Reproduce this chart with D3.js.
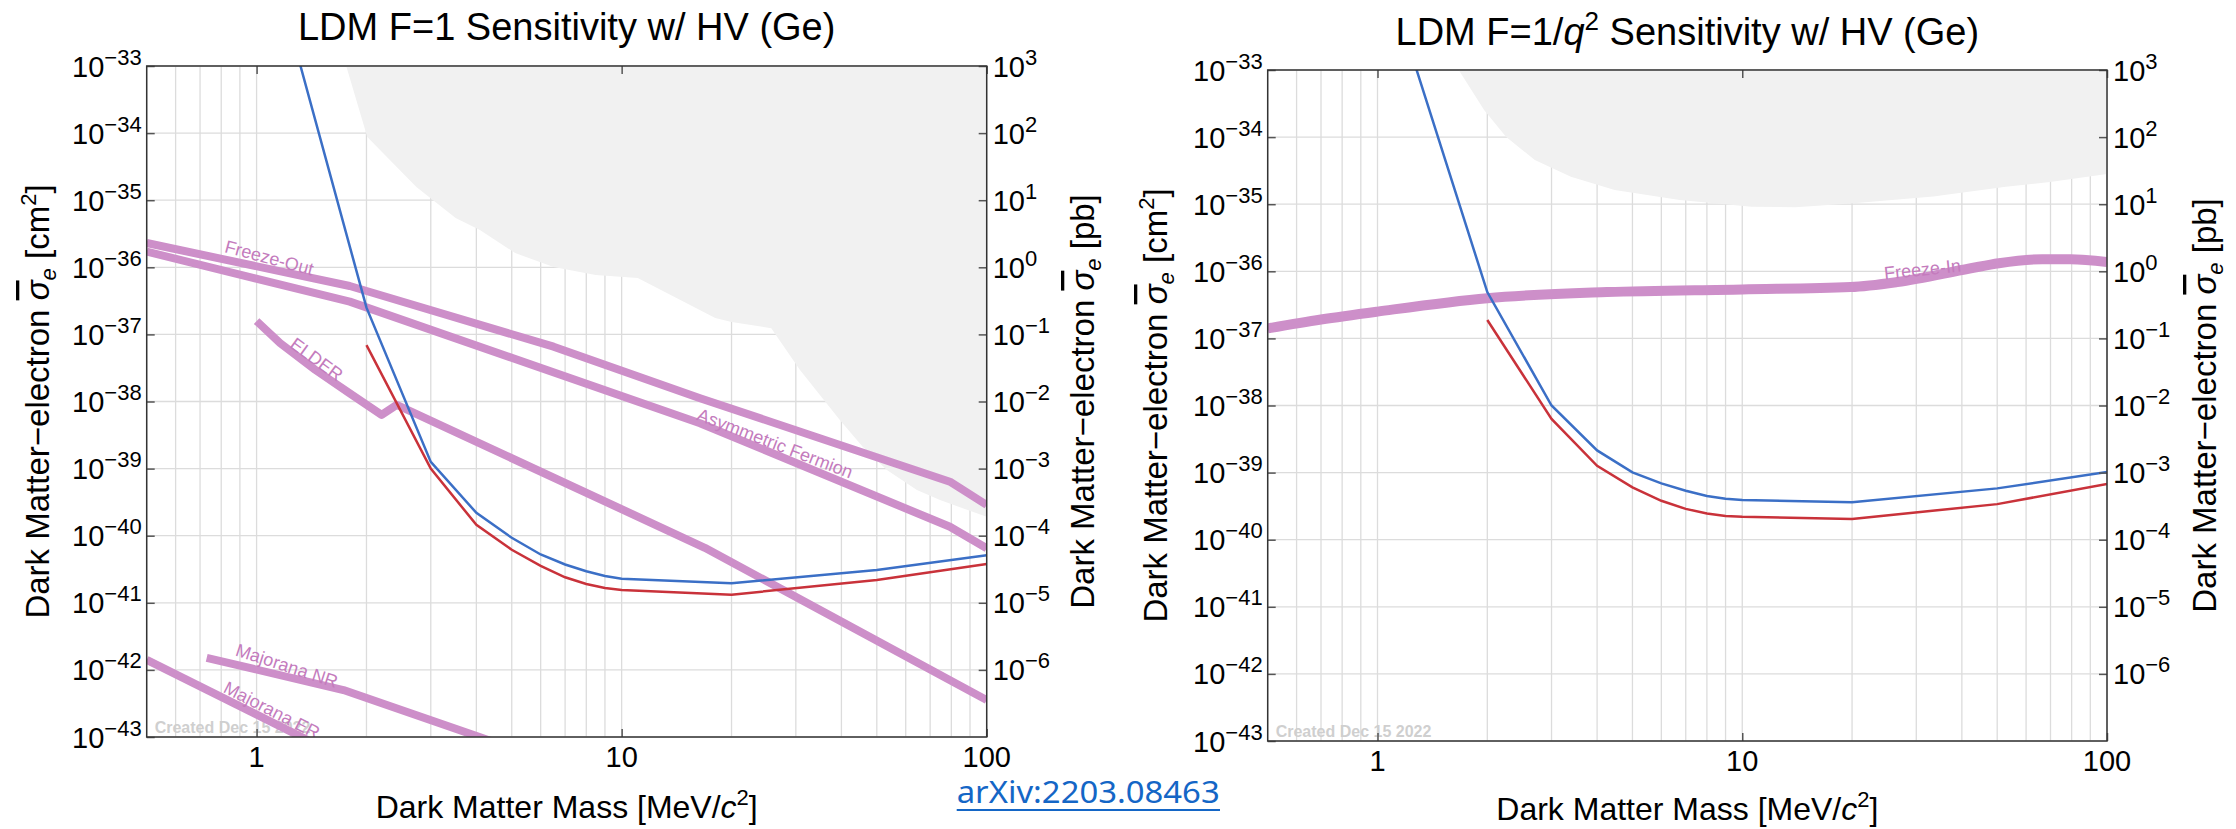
<!DOCTYPE html>
<html>
<head>
<meta charset="utf-8">
<script src="https://cdn.jsdelivr.net/npm/d3@7"></script>
<style>
  body { margin: 0; background: #fff; }
  svg text { font-family: 'Liberation Sans', Arial, Helvetica, sans-serif; }
</style>
</head>
<body>
<svg id="chart" width="2236" height="829"></svg>
<script>

// ---- axes
const massDomain = [0.5, 100]
const massTickValues = [1, 10, 100]
const massTickLabels = ['1', '10', '100']
const cm2Exponents = [-33, -34, -35, -36, -37, -38, -39, -40, -41, -42, -43]
const pbExponents = [3, 2, 1, 0, -1, -2, -3, -4, -5, -6]

// ---- F=1 panel (mass in MeV, cross section in cm^2)
const f1BlueMass = [1, 2, 3, 4, 5, 6, 7, 8, 9, 10, 20, 50, 100]
const f1BlueSigma = [2.5e-31, 2.5e-37, 1.26e-39, 2.19e-40, 9.3e-41, 5.25e-41, 3.72e-41, 2.95e-41, 2.51e-41, 2.29e-41, 1.95e-41, 3.09e-41, 5.13e-41]
const f1RedMass = [2, 3, 4, 5, 6, 7, 8, 9, 10, 20, 50, 100]
const f1RedSigma = [6.92e-38, 1.0e-39, 1.45e-40, 6.17e-41, 3.55e-41, 2.4e-41, 1.91e-41, 1.66e-41, 1.55e-41, 1.32e-41, 2.19e-41, 3.8e-41]
const f1ExcludedMass = [1.76, 2.01, 2.74, 3.51, 4.09, 5.11, 6.51, 8.49, 11.07, 18.05, 20, 25.7, 30.8, 39.6, 45.8, 53.3, 64.4, 74.5, 100]
const f1ExcludedSigma = [1e-33, 8.75e-35, 1.57e-35, 5.43e-36, 3.6e-36, 1.63e-36, 1.01e-36, 7.67e-37, 6.92e-37, 1.75e-37, 1.53e-37, 1.24e-37, 2.95e-38, 5.3e-39, 2.1e-39, 9.55e-40, 4.79e-40, 3.39e-40, 1.91e-40]
const freezeOutMass = [0.5, 1.8, 6.51, 16.4, 79.3, 100]
const freezeOutSigma = [2.3e-36, 5.26e-37, 6.56e-38, 1.12e-38, 6.38e-40, 2.87e-40]
const asymFermionMass = [0.5, 1.8, 16.4, 79.3, 100]
const asymFermionSigma = [1.71e-36, 3.08e-37, 4.73e-39, 1.36e-40, 6.49e-41]
const elderMass = [1, 1.16, 1.45, 1.8, 2.2, 2.42, 16.9, 100]
const elderSigma = [1.58e-37, 7.41e-38, 2.95e-38, 1.32e-38, 6.31e-39, 8.91e-39, 6.61e-41, 3.55e-43]
const majoranaNRMass = [0.73, 1.73, 4.08, 5]
const majoranaNRSigma = [1.51e-42, 5.01e-43, 1e-43, 6.76e-44]
const majoranaERMass = [0.5, 1.6]
const majoranaERSigma = [1.41e-42, 6.03e-44]

// ---- F=1/q^2 panel
const fq2BlueMass = [1, 2, 3, 4, 5, 6, 7, 8, 9, 10, 20, 50, 100]
const fq2BlueSigma = [6.8e-32, 4.9e-37, 1e-38, 2.14e-39, 1.01e-39, 6.92e-40, 5.37e-40, 4.47e-40, 4.07e-40, 3.89e-40, 3.63e-40, 5.82e-40, 1.02e-39]
const fq2RedMass = [2, 3, 4, 5, 6, 7, 8, 9, 10, 20, 50, 100]
const fq2RedSigma = [1.88e-37, 6.31e-39, 1.26e-39, 6.03e-40, 3.8e-40, 2.88e-40, 2.45e-40, 2.26e-40, 2.19e-40, 2.04e-40, 3.39e-40, 6.76e-40]
const fq2ExcludedMass = [1.67, 1.96, 2.25, 2.7, 3.39, 4.47, 6.74, 10.6, 14, 20.2, 33.4, 52.8, 69.8, 100]
const fq2ExcludedSigma = [1e-33, 2.54e-34, 1.01e-34, 4.56e-35, 2.57e-35, 1.63e-35, 1.16e-35, 9.18e-36, 9e-36, 1.03e-35, 1.3e-35, 1.82e-35, 2.14e-35, 2.82e-35]
const freezeInMass = [0.5, 0.7, 1, 2, 4.26, 10, 19.8, 26.6, 42, 50.5, 66.4, 79.5, 100]
const freezeInSigma = [1.41e-37, 1.91e-37, 2.51e-37, 3.98e-37, 4.9e-37, 5.37e-37, 5.82e-37, 6.92e-37, 1.1e-36, 1.32e-36, 1.51e-36, 1.51e-36, 1.38e-36]

const zip = (ms, ss) => ms.map((m, i) => ({ m, s: ss[i] }))

const bandColor = '#cd8fc9'
const labelColor = '#c47bbd'
const blue = '#3b6fc6'
const red = '#c9323a'

const panels = [
  {
    id: 'f1',
    box: { left: 146.7, right: 986.7, top: 66, bottom: 737 },
    titleBaseline: 40,
    xLabelBaseline: 818,
    yLabelLeftX: 49,
    yLabelRightX: 1094,
    excluded: zip(f1ExcludedMass, f1ExcludedSigma),
    bands: [
      { pts: zip(freezeOutMass, freezeOutSigma), width: 8 },
      { pts: zip(asymFermionMass, asymFermionSigma), width: 8 },
      { pts: zip(elderMass, elderSigma), width: 8 },
      { pts: zip(majoranaNRMass, majoranaNRSigma), width: 8 },
      { pts: zip(majoranaERMass, majoranaERSigma), width: 8 }
    ],
    labels: [
      { text: 'Freeze-Out', m: 1.083, s: 1.38e-36, angle: 15 },
      { text: 'ELDER', m: 1.46, s: 4.23e-38, angle: 36 },
      { text: 'Asymmetric Fermion', m: 26.3, s: 2.37e-39, angle: 21 },
      { text: 'Majorana NR', m: 1.21, s: 1.15e-42, angle: 18 },
      { text: 'Majorana ER', m: 1.1, s: 2.51e-43, angle: 27 }
    ],
    red: zip(f1RedMass, f1RedSigma),
    blue: zip(f1BlueMass, f1BlueSigma)
  },
  {
    id: 'fq2',
    box: { left: 1267.7, right: 2107, top: 70, bottom: 741 },
    titleBaseline: 45,
    xLabelBaseline: 820,
    yLabelLeftX: 1167,
    yLabelRightX: 2216,
    excluded: zip(fq2ExcludedMass, fq2ExcludedSigma),
    bands: [
      { pts: zip(freezeInMass, freezeInSigma), width: 10, smooth: true }
    ],
    labels: [
      { text: 'Freeze-In', m: 31.2, s: 1.06e-36, angle: -6 }
    ],
    red: zip(fq2RedMass, fq2RedSigma),
    blue: zip(fq2BlueMass, fq2BlueSigma)
  }
]

const svg = d3.select('#chart')
const defs = svg.append('defs')

panels.forEach(drawPanel)

// link under the left panel
svg.append('text')
  .attr('x', 956.7)
  .attr('y', 803)
  .attr('textLength', 263)
  .attr('lengthAdjust', 'spacingAndGlyphs')
  .style('font-family', "'Noto Sans', 'Open Sans', sans-serif")
  .style('font-size', '30px')
  .attr('fill', '#1466c6')
  .text('arXiv:2203.08463')
svg.append('line')
  .attr('x1', 956.7).attr('x2', 1220)
  .attr('y1', 810).attr('y2', 810)
  .attr('stroke', '#1466c6').attr('stroke-width', 2)


function drawPanel(p) {
  const { left, right, top, bottom } = p.box
  const x = d3.scaleLog().domain(massDomain).range([left, right])
  const y = d3.scaleLog().domain([1e-43, 1e-33]).range([bottom, top])
  const yPb = d3.scaleLog().domain([1e-7, 1e3]).range([bottom, top])

  const g = svg.append('g').attr('id', p.id)

  defs.append('clipPath').attr('id', 'clip-' + p.id)
    .append('rect')
    .attr('x', left).attr('y', top)
    .attr('width', right - left).attr('height', bottom - top)

  // grid
  const grid = g.append('g').attr('stroke', '#dcdcdc').attr('stroke-width', 1.3)
  grid.selectAll('.vgrid').data(x.ticks())
    .enter().append('line')
    .attr('x1', d => x(d)).attr('x2', d => x(d))
    .attr('y1', top).attr('y2', bottom)
  grid.selectAll('.hgrid').data(cm2Exponents)
    .enter().append('line')
    .attr('x1', left).attr('x2', right)
    .attr('y1', d => y(Math.pow(10, d))).attr('y2', d => y(Math.pow(10, d)))

  const plot = g.append('g').attr('clip-path', `url(#clip-${p.id})`)

  // excluded region
  const area = d3.area()
    .x(d => x(d.m))
    .y0(top)
    .y1(d => y(d.s))
  plot.append('path')
    .datum(p.excluded)
    .attr('d', area)
    .attr('fill', '#f1f1f1')

  plot.append('text')
    .attr('x', left + 8)
    .attr('y', bottom - 4)
    .attr('fill', '#cfcfcf')
    .style('font-size', '16px')
    .style('font-weight', 'bold')
    .text('Created Dec 15 2022')

  // theory bands
  p.bands.forEach(b => {
    const line = d3.line()
      .x(d => x(d.m))
      .y(d => y(d.s))
      .curve(b.smooth ? d3.curveMonotoneX : d3.curveLinear)
    plot.append('path')
      .datum(b.pts)
      .attr('d', line)
      .attr('fill', 'none')
      .attr('stroke', bandColor)
      .attr('stroke-width', b.width)
      .attr('stroke-linejoin', 'round')
  })

  p.labels.forEach(l => {
    plot.append('text')
      .attr('transform', `translate(${x(l.m)},${y(l.s)}) rotate(${l.angle})`)
      .attr('text-anchor', 'middle')
      .attr('dominant-baseline', 'central')
      .attr('fill', labelColor)
      .style('font-size', '18px')
      .text(l.text)
  })

  // sensitivity curves
  const curve = d3.line().x(d => x(d.m)).y(d => y(d.s))
  plot.append('path').datum(p.red)
    .attr('d', curve).attr('fill', 'none')
    .attr('stroke', red).attr('stroke-width', 2.5)
  plot.append('path').datum(p.blue)
    .attr('d', curve).attr('fill', 'none')
    .attr('stroke', blue).attr('stroke-width', 2.5)

  // axis ticks
  const tickStyle = sel => {
    sel.select('.domain').remove()
    sel.selectAll('line').attr('stroke', '#555').attr('stroke-width', 1.5)
  }
  const decadeValues = cm2Exponents.map(e => Math.pow(10, e))
  g.append('g').attr('transform', `translate(${left},0)`)
    .call(d3.axisLeft(y).tickValues(decadeValues).tickSizeInner(-8).tickSizeOuter(0).tickFormat(''))
    .call(tickStyle)
  g.append('g').attr('transform', `translate(${right},0)`)
    .call(d3.axisRight(yPb).tickValues(pbExponents.map(e => Math.pow(10, e))).tickSizeInner(-8).tickSizeOuter(0).tickFormat(''))
    .call(tickStyle)
  g.append('g').attr('transform', `translate(0,${bottom})`)
    .call(d3.axisBottom(x).tickValues(massTickValues).tickSizeInner(-8).tickSizeOuter(0).tickFormat(''))
    .call(tickStyle)
  g.append('g').attr('transform', `translate(0,${top})`)
    .call(d3.axisTop(x).tickValues(massTickValues).tickSizeInner(-8).tickSizeOuter(0).tickFormat(''))
    .call(tickStyle)

  // frame
  g.append('rect')
    .attr('x', left).attr('y', top)
    .attr('width', right - left).attr('height', bottom - top)
    .attr('fill', 'none')
    .attr('stroke', '#333')
    .attr('stroke-width', 1.5)

  // tick labels
  const powerLabel = (sel, exp) => {
    sel.append('tspan').text('10')
    sel.append('tspan')
      .attr('dy', -12)
      .style('font-size', '22px')
      .text(String(exp).replace('-', '\u2212'))
  }
  g.selectAll('.ylab').data(cm2Exponents)
    .enter().append('text')
    .attr('x', left - 5)
    .attr('y', d => y(Math.pow(10, d)) + 10.5)
    .attr('text-anchor', 'end')
    .style('font-size', '29px')
    .each(function (d) { powerLabel(d3.select(this), d) })
  g.selectAll('.ypblab').data(pbExponents)
    .enter().append('text')
    .attr('x', right + 6)
    .attr('y', d => yPb(Math.pow(10, d)) + 10.5)
    .style('font-size', '29px')
    .each(function (d) { powerLabel(d3.select(this), d) })
  g.selectAll('.xlab').data(massTickValues)
    .enter().append('text')
    .attr('x', d => x(d))
    .attr('y', bottom + 30)
    .attr('text-anchor', 'middle')
    .style('font-size', '29px')
    .text((d, i) => massTickLabels[i])

  // titles
  const cx = (left + right) / 2
  const title = g.append('text')
    .attr('x', cx).attr('y', p.titleBaseline)
    .attr('text-anchor', 'middle')
    .style('font-size', '38px')
  if (p.id === 'f1') {
    title.text('LDM F=1 Sensitivity w/ HV (Ge)')
  } else {
    title.append('tspan').text('LDM F=1/')
    title.append('tspan').style('font-style', 'italic').text('q')
    title.append('tspan').attr('dy', -15).style('font-size', '26px').text('2')
    title.append('tspan').attr('dy', 15).text(' Sensitivity w/ HV (Ge)')
  }

  const xLabel = g.append('text')
    .attr('x', cx).attr('y', p.xLabelBaseline)
    .attr('text-anchor', 'middle')
    .style('font-size', '32px')
  xLabel.append('tspan').text('Dark Matter Mass [MeV/')
  xLabel.append('tspan').style('font-style', 'italic').text('c')
  xLabel.append('tspan').attr('dy', -13).style('font-size', '22px').text('2')
  xLabel.append('tspan').attr('dy', 13).text(']')

  const cy = (top + bottom) / 2
  const yLabel = (xPos, unit, sup) => {
    const t = g.append('text')
      .attr('transform', `translate(${xPos},${cy}) rotate(-90)`)
      .attr('text-anchor', 'middle')
      .style('font-size', '33px')
    t.append('tspan').text('Dark Matter\u2212electron ')
    t.append('tspan').style('font-style', 'italic').style('text-decoration', 'overline').text('\u03c3')
    t.append('tspan').attr('dy', 7).style('font-style', 'italic').style('font-size', '22px').text('e')
    t.append('tspan').attr('dy', -7).text(' [' + unit)
    if (sup) {
      t.append('tspan').attr('dy', -13).style('font-size', '22px').text(sup)
      t.append('tspan').attr('dy', 13).text(']')
    } else {
      t.append('tspan').text(']')
    }
  }
  yLabel(p.yLabelLeftX, 'cm', '2')
  yLabel(p.yLabelRightX, 'pb', null)
}

</script>
</body>
</html>
